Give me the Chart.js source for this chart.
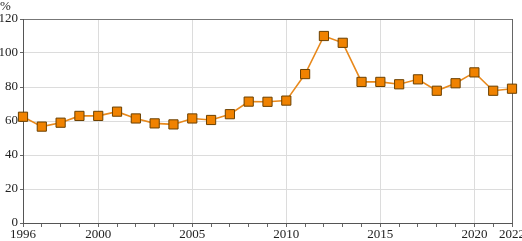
<!DOCTYPE html>
<html>
<head>
<meta charset="utf-8">
<script src="https://cdn.jsdelivr.net/npm/chart.js@4"></script>
<style>
  html, body { margin: 0; padding: 0; background: #fff; }
</style>
</head>
<body>
<canvas id="chart" width="522" height="241"></canvas>
<script>
const years = [1996, 1997, 1998, 1999, 2000, 2001, 2002, 2003, 2004, 2005, 2006, 2007, 2008,
  2009, 2010, 2011, 2012, 2013, 2014, 2015, 2016, 2017, 2018, 2019, 2020, 2021, 2022];
const values = [62.5, 56.7, 59, 63, 63, 65.5, 61.5, 58.6, 58, 61.5, 60.6, 64, 71.4,
  71.3, 72, 87.6, 110, 106, 83, 83, 81.6, 84.5, 77.8, 82.2, 88.6, 77.8, 79];
const labeledYears = [1996, 2000, 2005, 2010, 2015, 2020, 2022];
const gridYears = [2000, 2005, 2010, 2015, 2020];
const yTicks = [0, 20, 40, 60, 80, 100, 120];

const FONT = { family: '"Liberation Serif", "DejaVu Serif", serif', size: 13 };

// draws the "%" unit above the value axis
const unitLabel = {
  id: 'unitLabel',
  afterDraw(chart) {
    const ctx = chart.ctx;
    ctx.save();
    ctx.font = `${FONT.size}px ${FONT.family}`;
    ctx.fillStyle = '#222';
    ctx.textBaseline = 'top';
    ctx.textAlign = 'left';
    ctx.fillText('%', 0, 0);
    ctx.restore();
  }
};

new Chart(document.getElementById('chart'), {
  type: 'line',
  data: {
    datasets: [{
      data: years.map((y, i) => ({ x: y, y: values[i] })),
      borderColor: '#e8891c',
      borderWidth: 1.6,
      tension: 0,
      pointStyle: 'rect',
      pointRadius: 6.5,
      pointBackgroundColor: '#f08200',
      pointBorderColor: '#6b4000',
      pointBorderWidth: 1,
      clip: false
    }]
  },
  options: {
    responsive: false,
    animation: false,
    layout: { padding: { top: 19, right: 10, left: 0, bottom: 0 } },
    plugins: {
      legend: { display: false },
      tooltip: { enabled: false }
    },
    scales: {
      x: {
        type: 'linear',
        min: 1996,
        max: 2022,
        afterBuildTicks: scale => { scale.ticks = years.map(v => ({ value: v })); },
        afterFit: scale => {
          scale.height = 18;
          scale.paddingLeft = 0;
          scale.paddingRight = 0;
        },
        ticks: {
          autoSkip: false,
          maxRotation: 0,
          padding: 0,
          color: '#222',
          font: FONT,
          callback: v => labeledYears.includes(v) ? String(v) : ''
        },
        grid: {
          color: ctx => {
            const v = ctx.tick && ctx.tick.value;
            if (v === 2022) return '#666';
            return gridYears.includes(v) ? '#dcdcdc' : 'rgba(0,0,0,0)';
          },
          tickColor: '#666',
          tickLength: 4
        },
        border: { color: '#555', width: 1 }
      },
      y: {
        min: 0,
        max: 120,
        afterBuildTicks: scale => { scale.ticks = yTicks.map(v => ({ value: v })); },
        afterFit: scale => { scale.width = 23; },
        ticks: {
          padding: 2,
          color: '#222',
          font: FONT
        },
        grid: {
          color: ctx => (ctx.tick && ctx.tick.value === 120) ? '#777' : '#dcdcdc',
          tickColor: '#666',
          tickLength: 3
        },
        border: { color: '#555', width: 1 }
      }
    }
  },
  plugins: [unitLabel]
});
</script>
</body>
</html>
